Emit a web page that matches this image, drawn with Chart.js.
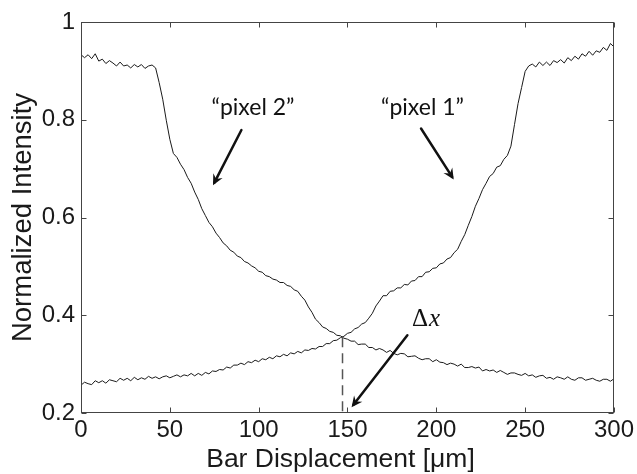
<!DOCTYPE html>
<html><head><meta charset="utf-8">
<script src="https://cdn.jsdelivr.net/npm/chart.js@4.4.0/dist/chart.umd.min.js"></script>
<style>html,body{margin:0;padding:0;background:#fff;}</style>
</head><body>
<canvas id="c" width="637" height="474"></canvas>
<script>
// ---- data ----
const xValues = [0,2,4,6,8,10,12,14,16,18,20,22,24,26,28,30,32,34,36,38,40,42,44,46,48,50,52,54,56,58,60,62,64,66,68,70,72,74,76,78,80,82,84,86,88,90,92,94,96,98,100,102,104,106,108,110,112,114,116,118,120,122,124,126,128,130,132,134,136,138,140,142,144,146,148,150,152,154,156,158,160,162,164,166,168,170,172,174,176,178,180,182,184,186,188,190,192,194,196,198,200,202,204,206,208,210,212,214,216,218,220,222,224,226,228,230,232,234,236,238,240,242,244,246,248,250,252,254,256,258,260,262,264,266,268,270,272,274,276,278,280,282,284,286,288,290,292,294,296,298,300];
const pixel2 = [0.933,0.927,0.933,0.925,0.935,0.920,0.924,0.915,0.921,0.916,0.910,0.918,0.910,0.912,0.906,0.913,0.908,0.913,0.905,0.910,0.912,0.906,
  0.876,0.842,0.799,0.760,0.731,0.723,0.709,0.698,0.682,0.670,0.652,0.637,0.618,0.604,0.590,0.581,0.568,0.559,0.548,0.542,0.533,0.529,0.521,0.518,0.510,0.507,0.501,0.497,0.490,0.488,0.481,0.479,0.474,0.472,0.467,0.467,0.461,0.459,0.452,0.449,0.439,0.431,0.417,0.406,0.392,0.385,0.376,0.373,0.367,0.365,0.359,0.358,0.353,0.351,
  0.347,0.347,0.340,0.341,0.341,0.334,0.334,0.329,0.332,0.329,0.324,0.328,0.322,0.319,0.322,0.321,0.315,0.316,0.317,0.312,0.309,0.311,0.311,0.305,0.309,0.304,0.303,0.299,0.302,0.300,0.296,0.300,0.293,0.293,0.295,0.292,0.294,0.286,0.289,0.286,0.288,0.283,0.287,0.283,0.279,0.282,0.282,0.279,0.277,0.281,
  0.276,0.278,0.273,0.276,0.277,0.271,0.273,0.269,0.274,0.272,0.269,0.274,0.269,0.267,0.272,0.272,0.267,0.269,0.271,0.267,0.265,0.269,0.269,0.265,0.270];
const pixel1 = [0.257,0.263,0.260,0.258,0.266,0.262,0.266,0.261,0.268,0.266,0.264,0.271,0.267,0.271,0.266,0.273,0.268,0.272,0.269,0.275,0.271,0.274,0.270,0.274,0.276,0.272,0.275,0.278,0.274,0.278,0.276,0.281,0.276,0.281,0.277,0.283,0.280,0.286,
  0.285,0.289,0.288,0.294,0.292,0.298,0.298,0.302,0.299,0.305,0.303,0.308,0.305,0.311,0.309,0.314,0.311,0.317,0.315,0.320,0.317,0.323,0.321,0.326,0.323,0.329,0.328,0.332,0.331,0.336,0.336,0.342,0.342,0.348,0.349,0.354,0.357,0.363,
  0.365,0.372,0.375,0.382,0.385,0.394,0.404,0.419,0.429,0.440,0.440,0.449,0.450,0.456,0.456,0.463,0.462,0.470,0.471,0.479,0.479,0.488,0.489,0.496,0.497,0.505,0.507,0.515,0.518,0.528,0.535,0.551,0.565,0.584,0.602,0.623,0.639,0.657,0.670,0.684,0.690,0.703,0.706,0.719,0.727,0.746,0.790,0.833,0.866,0.899,0.910,
  0.914,0.908,0.918,0.911,0.918,0.911,0.921,0.917,0.923,0.916,0.927,0.921,0.930,0.924,0.935,0.930,0.940,0.932,0.941,0.938,0.948,0.942,0.956,0.949];
const xTicks = [0,50,100,150,200,250,300];
const yTicks = [0.2,0.4,0.6,0.8,1];
const xTitle = 'Bar Displacement [\u03bcm]';
const yTitle = 'Normalized Intensity';
const crossing = {x:147.2, y:0.355};
// annotations in data units
const labels = [
  {text:'\u201cpixel 2\u201d', x:96.8, y:0.809},
  {text:'\u201cpixel 1\u201d', x:192.2, y:0.809}
];
const arrows = [
  {from:[90.3,0.779], to:[74.3,0.666]},
  {from:[191.4,0.782], to:[209.8,0.678]},
  {from:[183.7,0.359], to:[152.3,0.212]}
];
const deltaLabel = {x:193.9, y:0.378};

const toPts = arr => arr.map((v,i)=>({x:xValues[i], y:v}));
const FAMILY = '"Liberation Sans", Arial, sans-serif';

const decor = {
  id:'decor',
  afterDatasetsDraw(chart){
    const {ctx, chartArea:a, scales:{x,y}} = chart;
    ctx.save();
    // dashed crossing line
    ctx.strokeStyle='#555'; ctx.lineWidth=1.5; ctx.setLineDash([10,6]);
    ctx.beginPath();
    const cx = x.getPixelForValue(crossing.x);
    ctx.moveTo(cx, y.getPixelForValue(crossing.y)); ctx.lineTo(cx, a.bottom);
    ctx.stroke(); ctx.setLineDash([]);
    // frame
    const L=Math.round(a.left)+0.5, R=Math.round(a.right)-0.5, T=Math.round(a.top)+0.5, B=Math.round(a.bottom)-0.5;
    ctx.strokeStyle='#444'; ctx.lineWidth=1;
    ctx.strokeRect(L,T,R-L,B-T);
    // inward ticks
    ctx.beginPath();
    xTicks.forEach(v=>{const px=Math.round(x.getPixelForValue(v))+0.5; ctx.moveTo(px,B); ctx.lineTo(px,B-5); ctx.moveTo(px,T); ctx.lineTo(px,T+5);});
    yTicks.forEach(v=>{const py=Math.round(y.getPixelForValue(v))+0.5; ctx.moveTo(L,py); ctx.lineTo(L+5,py); ctx.moveTo(R,py); ctx.lineTo(R-5,py);});
    ctx.stroke();
    // x axis title
    ctx.fillStyle='#1a1a1a';
    ctx.font='26.5px '+FAMILY; ctx.textAlign='center'; ctx.textBaseline='alphabetic';
    ctx.fillText(xTitle, (a.left+a.right)/2-7, a.bottom+54);
    // labels
    ctx.fillStyle='#111';
    ctx.font='23px Lato'; ctx.textAlign='center'; ctx.textBaseline='alphabetic';
    labels.forEach(l=>ctx.fillText(l.text, x.getPixelForValue(l.x), y.getPixelForValue(l.y)));
    // delta x
    const dx = x.getPixelForValue(deltaLabel.x), dy = y.getPixelForValue(deltaLabel.y);
    ctx.font='25px "Liberation Serif"';
    const wD = ctx.measureText('\u0394').width;
    ctx.font='italic 25px "Liberation Serif"';
    const wX = ctx.measureText('x').width;
    const start = dx-(wD+wX)/2;
    ctx.textAlign='left';
    ctx.font='25px "Liberation Serif"'; ctx.fillText('\u0394', start, dy);
    ctx.font='italic 25px "Liberation Serif"'; ctx.fillText('x', start+wD+1, dy);
    // arrows
    ctx.strokeStyle='#111'; ctx.lineWidth=2.5; ctx.lineCap='round';
    arrows.forEach(ar=>{
      const x1=x.getPixelForValue(ar.from[0]), y1=y.getPixelForValue(ar.from[1]);
      const x2=x.getPixelForValue(ar.to[0]), y2=y.getPixelForValue(ar.to[1]);
      const ang=Math.atan2(y2-y1,x2-x1);
      ctx.beginPath(); ctx.moveTo(x1,y1); ctx.lineTo(x2-3*Math.cos(ang),y2-3*Math.sin(ang)); ctx.stroke();
      const hl=12, hw=0.45;
      ctx.beginPath();
      ctx.moveTo(x2,y2);
      ctx.lineTo(x2-hl*Math.cos(ang-hw), y2-hl*Math.sin(ang-hw));
      ctx.lineTo(x2-7*Math.cos(ang), y2-7*Math.sin(ang));
      ctx.lineTo(x2-hl*Math.cos(ang+hw), y2-hl*Math.sin(ang+hw));
      ctx.closePath(); ctx.fill();
    });
    ctx.restore();
  }
};

const tickFont = {family:FAMILY, size:24};

new Chart(document.getElementById('c'), {
  type:'line',
  data:{datasets:[
    {label:'pixel 2', data:toPts(pixel2), borderColor:'#1a1a1a', borderWidth:1, pointRadius:0, tension:0, fill:false},
    {label:'pixel 1', data:toPts(pixel1), borderColor:'#1a1a1a', borderWidth:1, pointRadius:0, tension:0, fill:false}
  ]},
  options:{
    responsive:false, animation:false, devicePixelRatio:1,
    layout:{padding:{top:22, right:23, left:0, bottom:0}},
    plugins:{legend:{display:false}, tooltip:{enabled:false}},
    scales:{
      x:{type:'linear', min:0, max:300,
         afterBuildTicks:s=>{s.ticks = xTicks.map(v=>({value:v}));},
         grid:{display:false, drawTicks:false}, border:{display:false},
         ticks:{font:tickFont, color:'#1a1a1a', padding:3, maxRotation:0, autoSkip:false},
         title:{display:false},
         afterFit:s=>{s.height=61;}
      },
      y:{type:'linear', min:0.2, max:1,
         afterBuildTicks:s=>{s.ticks = yTicks.map(v=>({value:v}));},
         grid:{display:false, drawTicks:false}, border:{display:false},
         ticks:{font:tickFont, color:'#1a1a1a', padding:6, autoSkip:false, callback:v=>String(v)},
         title:{display:true, text:yTitle, font:{family:FAMILY, size:27.5, lineHeight:1}, color:'#1a1a1a', padding:{top:10,bottom:0}},
         afterFit:s=>{s.width=81;}
      }
    }
  },
  plugins:[decor]
});
</script>
</body></html>
